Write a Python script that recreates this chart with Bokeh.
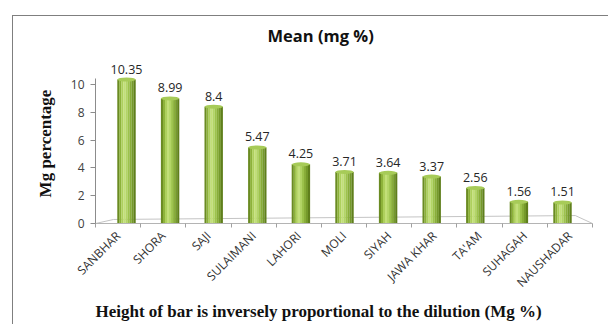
from math import pi
from bokeh.plotting import figure
from bokeh.models import Range1d, FixedTicker, LabelSet, ColumnDataSource, Title
from bokeh.core.properties import value
from bokeh.transform import dodge
from bokeh.embed import file_html
from bokeh.resources import INLINE

# ---- data ----
categories = ["SANBHAR", "SHORA", "SAJI", "SULAIMANI", "LAHORI", "MOLI",
              "SIYAH", "JAWA KHAR", "TA'AM", "SUHAGAH", "NAUSHADAR"]
mean_mg = [10.35, 8.99, 8.4, 5.47, 4.25, 3.71, 3.64, 3.37, 2.56, 1.56, 1.51]
y_ticks = [0, 2, 4, 6, 8, 10]

n = len(categories)
idx = list(range(n))
src = ColumnDataSource(dict(x=idx, top=mean_mg, label=[str(v) for v in mean_mg]))

p = figure(width=596, height=309, output_backend="svg", toolbar_location=None,
           x_range=Range1d(-0.5, n - 0.5), y_range=Range1d(0, 11.5),
           min_border_left=82, min_border_right=17, min_border_top=46,
           min_border_bottom=102)
p.styles = {"margin-left": "12px", "margin-top": "15px",
            "border-left": "1px solid #7f7f7f", "border-top": "1px solid #7f7f7f"}
p.outline_line_color = None
p.grid.visible = False
p.background_fill_color = "white"
p.border_fill_color = "white"

# bars use a perspective-shifted range (3D look of the original)
p.extra_x_ranges = {"bars": Range1d(-0.711, 10.688)}

# floor of the 3D chart
lo, hi = -0.5, n - 0.5
p.line(x=[lo, lo + 0.4, hi - 0.38, hi], y=[0, 0.29, 0.57, 0], line_color="#c4c4c4", line_width=1)

bar_w = 0.42
shades = ["#6a8b22", "#8db23a", "#aed05d", "#c2df78", "#b3d566", "#9dc34c",
          "#89ae39", "#759a2b", "#5f7f1c"]
k = len(shades)
sw = bar_w / k
for i, c in enumerate(shades):
    off = -bar_w / 2 + sw * (i + 0.5)
    p.vbar(x=dodge("x", off, range=p.extra_x_ranges["bars"]), top="top", width=sw * 1.05,
           bottom=0, source=src, fill_color=c, line_color=None, x_range_name="bars")
p.ellipse(x="x", y="top", width=bar_w, height=4, height_units="screen", source=src,
          fill_color="#a7cb58", line_color=None, x_range_name="bars")

labels = LabelSet(x="x", y="top", text="label", source=src, x_range_name="bars",
                  text_align="center", text_baseline="bottom", y_offset=6,
                  text_font=value("Open Sans"), text_font_size="12.5px", text_color="#262626")
p.add_layout(labels)

# axes
xa = p.xaxis[0]
xa.ticker = FixedTicker(ticks=idx, minor_ticks=[i - 0.5 for i in range(n + 1)])
xa.major_label_overrides = {i: c for i, c in enumerate(categories)}
xa.major_label_orientation = pi / 4
xa.major_tick_out = 0
xa.major_tick_in = 0
xa.minor_tick_out = 4
xa.minor_tick_in = 0
xa.minor_tick_line_color = "#a0a0a0"
xa.axis_line_color = "#b4b4b4"
xa.major_label_text_font = "Open Sans"
xa.major_label_text_font_size = "12px"
xa.major_label_text_color = "#333333"
xa.major_label_standoff = 6

ya = p.yaxis[0]
ya.ticker = FixedTicker(ticks=y_ticks)
ya.bounds = (0, 10.45)
ya.minor_tick_line_color = None
ya.major_tick_out = 5
ya.major_tick_in = 0
ya.axis_line_color = "#8c8c8c"
ya.major_tick_line_color = "#8c8c8c"
ya.major_label_text_font = "Open Sans"
ya.major_label_text_font_size = "12px"
ya.major_label_text_color = "#404040"
ya.major_label_standoff = 6
ya.axis_label = "Mg percentage"
ya.axis_label_text_font = "Liberation Serif"
ya.axis_label_text_font_style = "bold"
ya.axis_label_text_font_size = "17px"
ya.axis_label_text_color = "#111111"
ya.axis_label_standoff = 13

p.title = Title(text="Mean (mg %)", align="left", offset=172,
                text_font="Open Sans", text_font_style="bold", text_font_size="16.5px",
                text_color="#111111")
# spacer between the chart title and the plot area
p.add_layout(Title(text=" ", text_font_size="9px", standoff=0), "above")

p.add_layout(Title(text="Height of bar is inversely proportional to the dilution (Mg %)",
                   align="left", offset=0, standoff=0, text_font="Liberation Serif",
                   text_font_style="bold", text_font_size="17px", text_color="#111111"),
             "below")

open("out.html", "w").write(file_html(p, INLINE))
